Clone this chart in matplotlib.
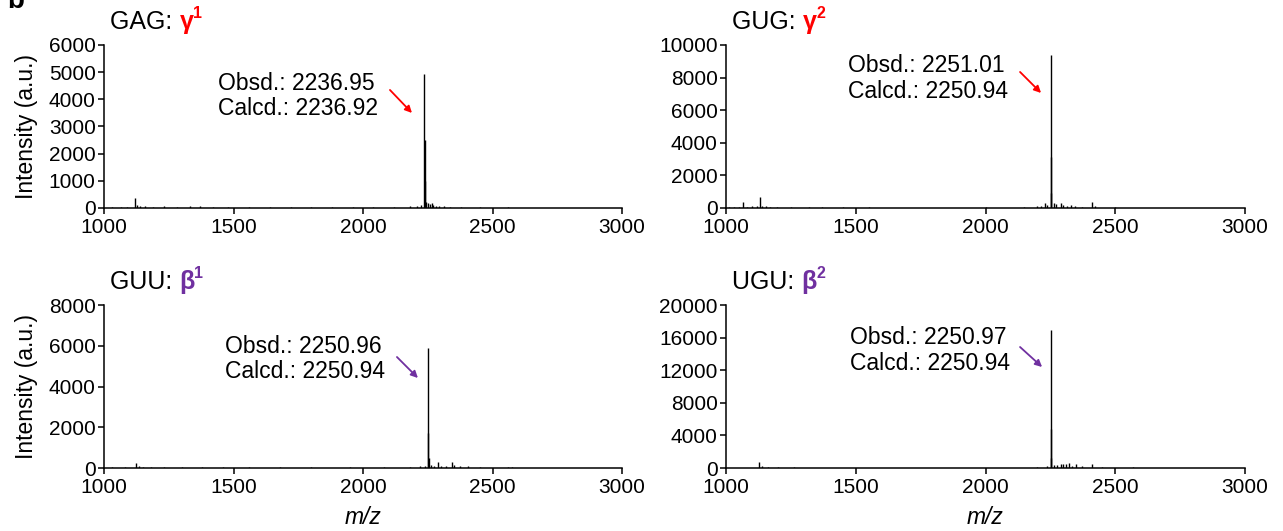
import matplotlib
matplotlib.use("Agg")
import matplotlib.pyplot as plt

plt.rcParams['font.family'] = ['Liberation Sans', 'DejaVu Sans']

# ---- data: puncak spektrum (m/z, intensitas) tiap panel ----
gag_mz = [1030, 1065, 1090, 1120, 1128, 1140, 1160, 1190, 1230, 1280, 1330, 1370, 1420, 1480,
          1560, 1640, 1720, 1800, 1880, 1960, 2040, 2120, 2180, 2210, 2225,
          2237, 2238, 2239, 2245, 2252, 2258, 2265, 2272, 2282, 2295, 2312, 2335, 2380, 2450, 2560]
gag_int = [40, 50, 45, 350, 120, 80, 60, 50, 55, 40, 60, 70, 50, 45,
           40, 45, 40, 35, 40, 35, 40, 50, 60, 80, 120,
           4950, 2500, 1000, 220, 180, 150, 170, 110, 90, 70, 60, 45, 35, 30, 25]

gug_mz = [1010, 1030, 1050, 1065, 1080, 1100, 1118, 1130, 1140, 1155, 1170, 1195, 1250, 1320,
          1370, 1450, 1550, 1700, 1850, 2000, 2150, 2200, 2215, 2228, 2238,
          2251, 2252, 2253, 2262, 2272, 2290, 2300, 2315, 2330, 2345, 2370, 2410, 2420, 2500, 2580]
gug_int = [60, 80, 70, 350, 90, 120, 100, 650, 150, 110, 80, 60, 40, 40,
           50, 35, 35, 30, 30, 40, 50, 120, 150, 320, 200,
           9400, 3100, 900, 300, 220, 280, 160, 140, 160, 110, 90, 380, 120, 40, 30]

guu_mz = [1030, 1080, 1125, 1135, 1150, 1180, 1230, 1300, 1380, 1460, 1560, 1680, 1800,
          1950, 2080, 2180, 2220, 2240,
          2251, 2252, 2253, 2262, 2275, 2290, 2300, 2320, 2345, 2350, 2375, 2405, 2450, 2560, 2575]
guu_int = [40, 50, 250, 80, 60, 50, 40, 45, 40, 35, 40, 35, 30,
           35, 40, 50, 80, 120,
           5900, 1700, 500, 150, 120, 300, 120, 80, 320, 150, 80, 110, 40, 60, 50]

ugu_mz = [1040, 1090, 1128, 1140, 1160, 1200, 1260, 1370, 1500, 1650, 1800, 1950, 2100,
          2200, 2235,
          2251, 2252, 2253, 2262, 2275, 2290, 2300, 2310, 2322, 2335, 2350, 2370, 2410, 2450, 2570]
ugu_int = [60, 50, 800, 200, 150, 100, 80, 60, 50, 50, 40, 50, 60,
           120, 200,
           16900, 4800, 1200, 400, 350, 550, 450, 550, 650, 300, 500, 250, 500, 100, 80]

titles = ["GAG: ", "GUG: ", "GUU: ", "UGU: "]
tags = ["γ", "γ", "β", "β"]
tag_sup = ["1", "2", "1", "2"]
obsd = ["2236.95", "2251.01", "2250.96", "2250.97"]
calcd = ["2236.92", "2250.94", "2250.94", "2250.94"]
ymax = [6000, 10000, 8000, 20000]
ystep = [1000, 2000, 2000, 4000]

RED = "#ff0000"
PURPLE = "#7030a0"
tag_colors = [RED, RED, PURPLE, PURPLE]

spectra = [(gag_mz, gag_int), (gug_mz, gug_int), (guu_mz, guu_int), (ugu_mz, ugu_int)]

# posisi teks & panah (data coords) per panel
text_pos = [(1440, 4123), (1470, 7945), (1467, 5350), (1478, 14417)]
arrow_se = [((2104, 4344), (2189, 3497)),
            ((2133, 8344), (2214, 7055)),
            ((2131, 5448), (2212, 4417)),
            ((2133, 14847), (2218, 12393))]

fig = plt.figure(figsize=(12.83, 5.31), dpi=100)
boxes = [[0.0811, 0.6083, 0.4037, 0.307],
         [0.5659, 0.6083, 0.4045, 0.307],
         [0.0811, 0.1186, 0.4037, 0.307],
         [0.5659, 0.1186, 0.4045, 0.307]]

FS = 15

for i, box in enumerate(boxes):
    ax = fig.add_axes(box)
    mz, inten = spectra[i]
    ax.axhline(0, color="black", lw=0.6, zorder=1)
    ax.vlines(mz, 0, inten, color="black", lw=1.0, zorder=2)

    ax.set_xlim(1000, 3000)
    ax.set_ylim(0, ymax[i])
    ax.set_xticks(range(1000, 3001, 500))
    ax.set_yticks(range(0, ymax[i] + 1, ystep[i]))
    ax.tick_params(direction="out", length=4, width=1.1, labelsize=FS, pad=2)
    ax.tick_params(axis="x", pad=3)
    for s in ["top", "right"]:
        ax.spines[s].set_visible(False)
    for s in ["left", "bottom"]:
        ax.spines[s].set_linewidth(1.1)

    # judul: hitam + tag berwarna + angka superscript
    t = ax.text(0.012, 1.14, titles[i], transform=ax.transAxes,
                fontsize=18, va="center", ha="left")
    g = ax.annotate(tags[i], xy=(1, 0.5), xycoords=t, va="center", ha="left",
                    fontsize=18, fontweight="bold", color=tag_colors[i])
    ax.annotate(tag_sup[i], xy=(0.95, 0.55), xycoords=g, va="bottom", ha="left",
                fontsize=11.5, fontweight="bold", color=tag_colors[i])

    ax.text(text_pos[i][0], text_pos[i][1],
            f"Obsd.: {obsd[i]}\nCalcd.: {calcd[i]}",
            fontsize=16.5, va="center", ha="left", linespacing=1.15)
    (x0, y0), (x1, y1) = arrow_se[i]
    ax.annotate("", xy=(x1, y1), xytext=(x0, y0),
                arrowprops=dict(arrowstyle="-|>", color=tag_colors[i], lw=1.3,
                                mutation_scale=10, shrinkA=0, shrinkB=0))

    if i % 2 == 0:
        ax.set_ylabel("Intensity (a.u.)", fontsize=16.5, labelpad=8)
    if i >= 2:
        ax.set_xlabel("m/z", fontsize=16.5, style="italic", labelpad=7)

fig.text(0.006, 0.985, "b", fontsize=20, fontweight="bold", va="baseline")

fig.savefig("out.png", dpi=100)
